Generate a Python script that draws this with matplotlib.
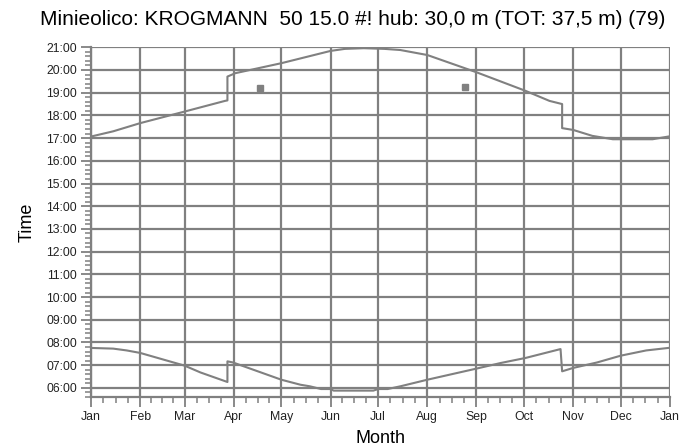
import matplotlib.pyplot as plt
from matplotlib.ticker import FixedLocator, MultipleLocator, FuncFormatter

plt.rcParams['font.family'] = ['Liberation Sans', 'DejaVu Sans']

# month boundaries (day of year) and labels
month_days = [0, 31, 59, 90, 120, 151, 181, 212, 243, 273, 304, 334, 365]
month_labels = ['Jan', 'Feb', 'Mar', 'Apr', 'May', 'Jun', 'Jul', 'Aug', 'Sep',
                'Oct', 'Nov', 'Dec', 'Jan']

# sunset (upper curve), hours local time
sunset_days = [0, 14, 31, 59, 84.5, 86, 86, 91, 120, 151, 160, 172, 185, 195,
               212, 243, 274, 289, 297, 297, 304, 316, 329, 354, 364]
sunset_hours = [17.07, 17.30, 17.66, 18.17, 18.64, 18.66, 19.71, 19.86, 20.30,
                20.84, 20.93, 20.96, 20.93, 20.88, 20.66, 19.90, 19.08, 18.64,
                18.50, 17.44, 17.36, 17.10, 16.95, 16.95, 17.07]

# sunrise (lower curve)
sunrise_days = [0, 14, 22.5, 31, 52, 59, 69, 86, 86, 89.5, 120, 132, 138, 145,
                151, 153, 178, 181, 187, 195, 212, 243, 258.5, 274, 296, 297,
                304, 319, 334, 350, 364]
sunrise_hours = [7.76, 7.73, 7.65, 7.54, 7.12, 6.98, 6.68, 6.26, 7.17, 7.12,
                 6.36, 6.14, 6.07, 5.95, 5.95, 5.88, 5.88, 5.95, 5.95, 6.07,
                 6.36, 6.85, 7.10, 7.32, 7.71, 6.73, 6.88, 7.12, 7.42, 7.65,
                 7.76]

# isolated points
point_days = [106.6, 235.8]
point_hours = [19.21, 19.24]

grey = '#808080'

fig = plt.figure(figsize=(6.99, 4.47), dpi=100)
ax = fig.add_axes([0.1302, 0.1119, 0.8283, 0.7823])

ax.plot(sunset_days, sunset_hours, color=grey, lw=1.5, zorder=3)
ax.plot(sunrise_days, sunrise_hours, color=grey, lw=1.5, zorder=3)
ax.plot(point_days, point_hours, 's', color=grey, ms=5, zorder=3)

ax.set_xlim(0, 365)
ax.set_ylim(5.6, 21)

ax.set_xticks(month_days)
ax.set_xticklabels(month_labels)
minor_x = []
for a, b in zip(month_days[:-1], month_days[1:]):
    minor_x += [a + (b - a) * q / 4 for q in (1, 2, 3)]
ax.xaxis.set_minor_locator(FixedLocator(minor_x))

ax.yaxis.set_major_locator(MultipleLocator(1))
ax.yaxis.set_minor_locator(MultipleLocator(0.2))
ax.yaxis.set_major_formatter(FuncFormatter(lambda v, p: f'{int(round(v)):02d}:00'))

ax.grid(True, which='major', color=grey, lw=1.6)
for s in ['top', 'right']:
    ax.spines[s].set_visible(False)
for s in ['left', 'bottom']:
    ax.spines[s].set_color(grey)
    ax.spines[s].set_linewidth(1.6)

ax.tick_params(which='major', length=7, width=1.3, color=grey,
               labelsize=8.8, labelcolor='#222222', pad=3)
ax.tick_params(which='minor', length=4, width=1.1, color=grey)

ax.set_xlabel('Month', fontsize=13, labelpad=5)
ax.set_ylabel('Time', fontsize=13, labelpad=8)

fig.suptitle('Minieolico: KROGMANN  50 15.0 #! hub: 30,0 m (TOT: 37,5 m) (79)',
             fontsize=15, x=0.505, y=0.978)

fig.savefig('out.png', dpi=100)
